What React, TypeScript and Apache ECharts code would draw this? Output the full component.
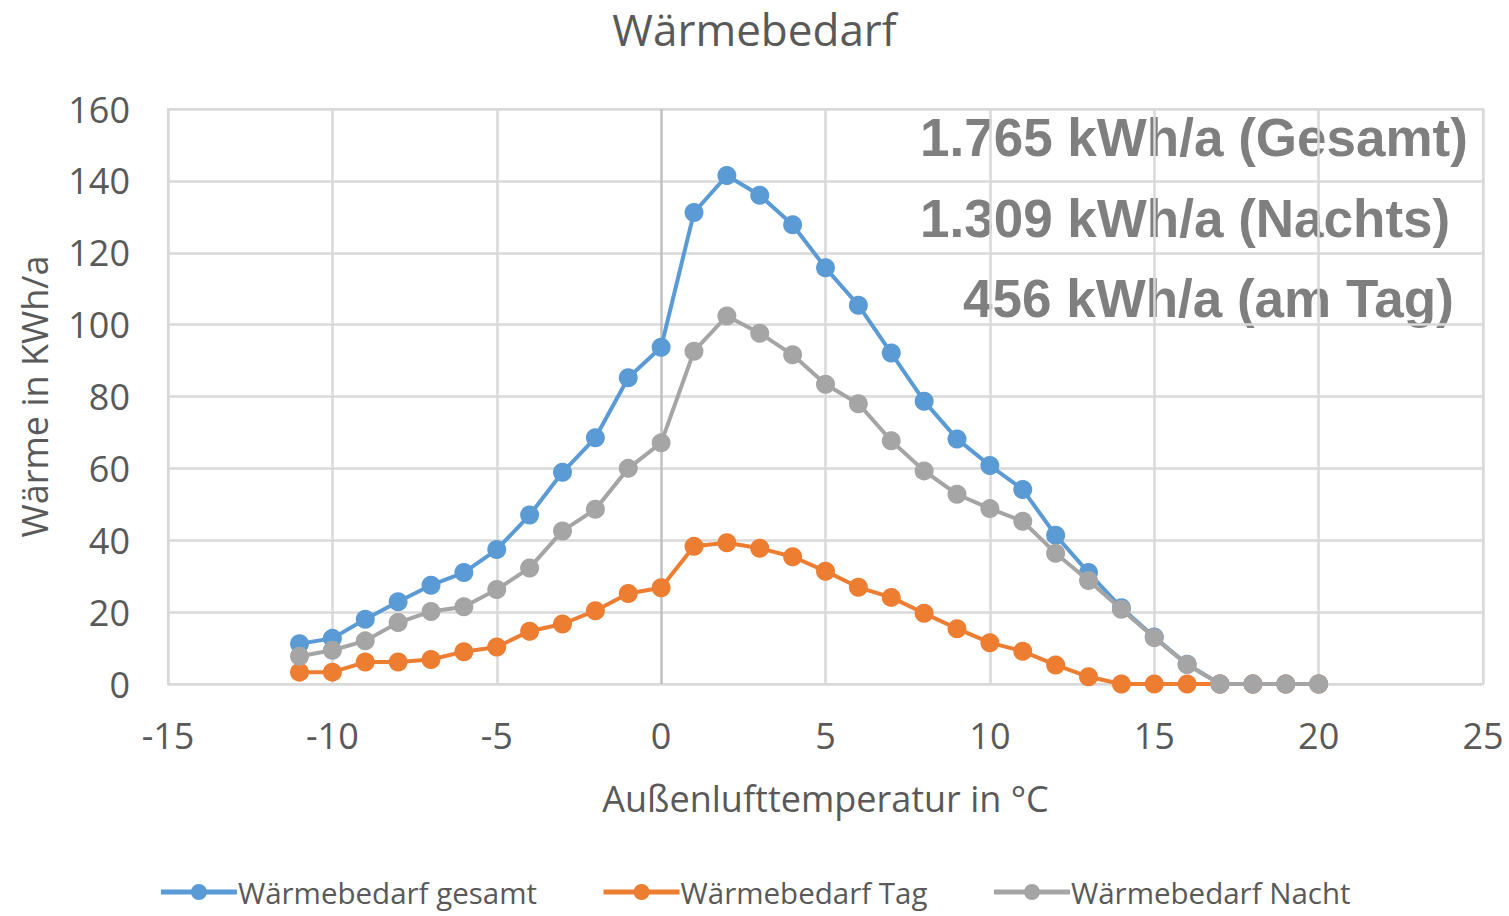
import React, { useEffect, useRef } from "react";
import * as echarts from "echarts";

const temps = [-11, -10, -9, -8, -7, -6, -5, -4, -3, -2, -1, 0, 1, 2, 3, 4, 5, 6, 7, 8, 9, 10, 11, 12, 13, 14, 15, 16, 17, 18, 19, 20];
const gesamt = [11.2, 12.7, 18.0, 22.9, 27.5, 31.0, 37.4, 47.0, 58.9, 68.5, 85.2, 93.7, 131.2, 141.5, 136.0, 127.8, 115.8, 105.4, 92.1, 78.7, 68.2, 60.8, 54.1, 41.4, 31.0, 21.2, 13.1, 5.5, 0, 0, 0, 0];
const tag = [3.3, 3.3, 6.1, 6.1, 6.8, 9.0, 10.3, 14.7, 16.7, 20.4, 25.2, 26.8, 38.3, 39.3, 37.8, 35.4, 31.4, 26.9, 24.1, 19.7, 15.4, 11.5, 9.1, 5.3, 2.0, 0, 0, 0, 0, 0, 0, 0];
const nacht = [7.7, 9.4, 12.0, 17.1, 20.2, 21.5, 26.3, 32.3, 42.6, 48.6, 60.0, 67.1, 92.6, 102.4, 97.6, 91.6, 83.4, 78.0, 67.7, 59.3, 52.8, 48.8, 45.3, 36.4, 28.8, 20.8, 12.9, 5.4, 0, 0, 0, 0];
const seriesNames = ["Wärmebedarf gesamt", "Wärmebedarf Tag", "Wärmebedarf Nacht"];
const annotations = ["1.765 kWh/a (Gesamt)", "1.309 kWh/a (Nachts)", "456 kWh/a (am Tag)"];

const FONT = "'Open Sans', sans-serif";
const BOLD = "bold 53px 'Liberation Sans', Arial, sans-serif";

export default function App() {
  const ref = useRef<HTMLDivElement>(null);
  useEffect(() => {
    if (!ref.current) return;
    const chart = echarts.init(ref.current, null, { renderer: "svg" });
    const mk = (vals: number[]) => temps.map((t, i) => [t, vals[i]]);
    const colors = ["#5B9BD5", "#ED7D31", "#A5A5A5"];
    const gridColors = ["#d9d9d9", "#d9d9d9", "#d9d9d9", "#bfbfbf", "#d9d9d9", "#d9d9d9", "#d9d9d9", "#d9d9d9", "#d9d9d9"];
    chart.setOption({
      animation: false,
      color: colors,
      title: {
        text: "Wärmebedarf",
        left: "center",
        top: 2,
        textStyle: { fontFamily: FONT, fontSize: 44, fontWeight: "normal", color: "#595959" },
      },
      grid: {
        left: 168, right: 26, top: 109, bottom: 232,
        show: true, borderColor: "#d9d9d9", borderWidth: 2,
      },
      xAxis: {
        type: "value", min: -15, max: 25, interval: 5,
        name: "Außenlufttemperatur in °C", nameLocation: "middle", nameGap: 96,
        nameTextStyle: { fontFamily: FONT, fontSize: 36, color: "#595959" },
        axisLine: { show: false }, axisTick: { show: false },
        axisLabel: { fontFamily: FONT, fontSize: 36, color: "#595959", margin: 33 },
        splitLine: { show: true, lineStyle: { color: gridColors, width: 2.5 } },
      },
      yAxis: {
        type: "value", min: 0, max: 160, interval: 20,
        name: "Wärme in KWh/a", nameLocation: "middle", nameGap: 116,
        nameTextStyle: { fontFamily: FONT, fontSize: 36, color: "#595959" },
        axisLine: { show: false }, axisTick: { show: false },
        axisLabel: { fontFamily: FONT, fontSize: 36, color: "#595959", margin: 38 },
        splitLine: { show: true, lineStyle: { color: "#d9d9d9", width: 2.5 } },
      },
      legend: {
        bottom: 4, left: "center", itemWidth: 76, itemHeight: 20, itemGap: 64,
        lineStyle: { width: 5 },
        textStyle: { fontFamily: FONT, fontSize: 29.5, color: "#595959", padding: [0, 0, 0, -4] },
        data: seriesNames,
      },
      series: [
        { name: seriesNames[0], type: "line", data: mk(gesamt), symbol: "circle", symbolSize: 19, lineStyle: { width: 4 }, z: 2 },
        { name: seriesNames[1], type: "line", data: mk(tag), symbol: "circle", symbolSize: 19, lineStyle: { width: 4 }, z: 3 },
        { name: seriesNames[2], type: "line", data: mk(nacht), symbol: "circle", symbolSize: 19, lineStyle: { width: 4 }, z: 4 },
      ],
      graphic: [
        { type: "text", left: 920, top: 111, style: { text: annotations[0], font: BOLD, fill: "#7f7f7f" } },
        { type: "text", left: 920, top: 192, style: { text: annotations[1], font: BOLD, fill: "#7f7f7f" } },
        { type: "text", left: 963, top: 272, style: { text: annotations[2], font: BOLD, fill: "#7f7f7f" } },
      ],
    });
    return () => chart.dispose();
  }, []);
  return <div ref={ref} style={{ width: 1509, height: 916, position: "absolute", left: 0, top: 0 }} />;
}
